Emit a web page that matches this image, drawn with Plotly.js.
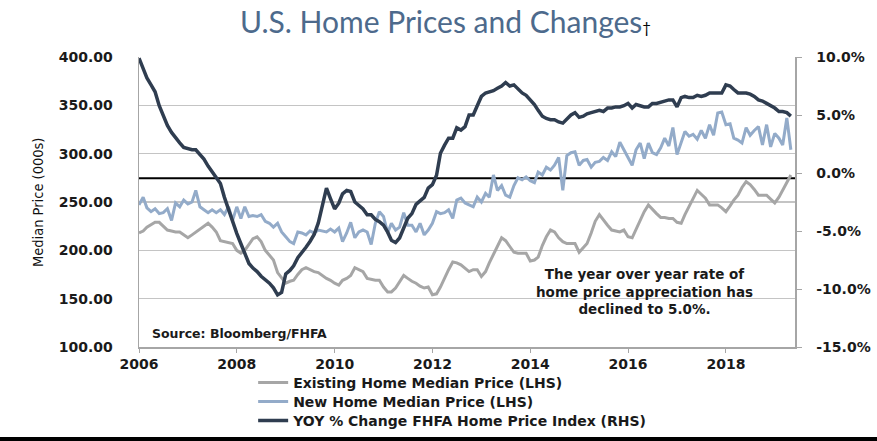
<!DOCTYPE html>
<html>
<head>
<meta charset="utf-8">
<script src="https://cdn.plot.ly/plotly-3.0.1.min.js"></script>
<style>html,body{margin:0;padding:0;background:#fff;}#chart{width:877px;height:441px;}</style>
</head>
<body>
<div id="chart"></div>
<script>
// Monthly series, Jan 2006 .. May 2019
const startYear = 2006;
const seriesNames = [
  "Existing Home Median Price (LHS)",
  "New Home Median Price (LHS)",
  "YOY % Change FHFA Home Price Index (RHS)"
];
const existingHome = [
  218,220,224,227,229,229,225,221,220,219,219,216,
  213,216,219,222,225,228,224,219,210,209,208,207,
  200,197,200,206,212,214,209,200,195,190,177,171,
  166,168,169,175,180,182,180,178,177,174,171,169,
  166,164,169,171,174,182,180,178,171,170,169,169,
  162,157,157,161,168,174,171,168,166,163,161,162,
  154,155,162,172,180,188,187,185,181,178,180,180,
  173,178,187,196,203,213,210,204,198,197,197,197,
  189,190,193,205,214,221,219,213,209,207,207,207,
  198,203,207,218,230,237,231,226,221,220,219,221,
  214,213,222,231,240,247,242,238,234,234,233,233,
  229,228,237,245,254,262,258,254,247,247,247,244,
  240,246,252,257,265,271,268,263,257,257,257,253,
  249,255,262,270,278
];
const newHome = [
  247,255,244,240,243,238,239,243,231,249,245,252,
  248,250,262,245,242,239,242,239,242,237,245,231,
  245,233,245,235,236,235,237,230,228,224,228,219,
  214,209,207,219,218,216,220,218,221,220,219,222,
  219,223,209,218,229,213,219,221,219,206,228,240,
  235,218,228,221,224,239,226,226,219,228,216,221,
  228,240,238,239,242,233,252,254,249,247,245,255,
  250,259,255,278,262,267,257,255,267,275,273,276,
  272,270,281,278,286,283,288,296,262,298,301,302,
  288,293,294,286,291,292,296,293,302,297,312,304,
  296,288,304,311,295,311,301,299,306,316,308,327,
  299,311,323,318,320,315,324,316,330,319,342,343,
  330,331,316,314,311,327,319,324,328,309,330,307,
  321,316,309,337,304
];
const yoyChange = [
  9.9,9.0,8.2,7.6,7.0,5.8,5.0,4.1,3.5,3.0,2.6,2.2,
  2.1,2.0,2.0,1.6,1.2,0.6,0.1,-0.4,-0.9,-2.1,-3.2,-4.3,
  -5.2,-6.1,-6.9,-7.8,-8.2,-8.5,-8.9,-9.2,-9.5,-9.9,-10.5,-10.3,
  -8.7,-8.4,-8.0,-7.3,-6.9,-6.4,-5.9,-5.3,-4.3,-2.9,-1.3,-2.2,
  -3.1,-2.6,-1.8,-1.5,-1.6,-2.5,-2.8,-3.1,-3.6,-3.6,-4.0,-4.2,
  -4.5,-5.1,-5.8,-6.0,-5.6,-4.7,-3.9,-3.5,-2.7,-2.4,-2.1,-1.3,
  -1.0,-0.2,1.7,2.4,3.0,3.0,3.9,3.7,4.0,5.0,5.0,5.8,
  6.6,6.9,7.0,7.1,7.3,7.5,7.8,7.5,7.6,7.2,6.9,6.7,
  6.3,5.9,5.4,4.9,4.7,4.6,4.6,4.4,4.3,4.7,5.0,5.2,
  4.8,4.9,5.1,5.2,5.3,5.4,5.3,5.6,5.6,5.7,5.7,5.8,
  6.0,5.6,5.9,5.8,5.7,5.7,6.0,6.0,6.1,6.2,6.3,6.3,
  5.7,6.5,6.6,6.5,6.5,6.7,6.6,6.7,6.9,6.9,6.9,6.9,
  7.6,7.5,7.2,6.9,6.9,6.9,6.8,6.6,6.3,6.2,6.0,5.8,
  5.6,5.3,5.3,5.2,4.9
];
const leftTicks = [100,150,200,250,300,350,400];
const leftTickText = ['100.00','150.00','200.00','250.00','300.00','350.00','400.00'];
const rightTicks = [-15,-10,-5,0,5,10];
const rightTickText = ['-15.0%','-10.0%','-5.0%','0.0%','5.0%','10.0%'];
const xTickVals = ['2006-01-01','2008-01-01','2010-01-01','2012-01-01','2014-01-01','2016-01-01','2018-01-01'];
const xTickText = ['2006','2008','2010','2012','2014','2016','2018'];
const noteLines = ['The year over year rate of', 'home price appreciation has', 'declined to 5.0%.'];

const dates = existingHome.map((_, i) => {
  const y = startYear + Math.floor(i / 12);
  const m = (i % 12) + 1;
  return y + '-' + String(m).padStart(2, '0') + '-01';
});

const boldFont = (size) => ({family: 'DejaVu Sans, sans-serif', size: size, color: '#1a1a1a', weight: 700});
const tickFont = boldFont(14);

const traces = [
  {x: dates, y: existingHome, name: seriesNames[0], type: 'scatter', mode: 'lines',
   line: {color: '#a6a6a6', width: 3}, yaxis: 'y', legend: 'legend'},
  {x: dates, y: newHome, name: seriesNames[1], type: 'scatter', mode: 'lines',
   line: {color: '#93abc9', width: 3}, yaxis: 'y', legend: 'legend2'},
  {x: dates, y: yoyChange, name: seriesNames[2], type: 'scatter', mode: 'lines',
   line: {color: '#2f3d50', width: 3.5}, yaxis: 'y2', legend: 'legend3'}
];

const legendBase = (yv) => ({
  x: 0.174, xanchor: 'left', y: yv, yanchor: 'middle', orientation: 'v',
  font: boldFont(14), bgcolor: 'rgba(0,0,0,0)', itemwidth: 30, borderwidth: 0
});

const layout = {
  width: 877, height: 441,
  margin: {l: 139, r: 82, t: 57, b: 94, autoexpand: false},
  paper_bgcolor: '#ffffff', plot_bgcolor: '#ffffff',
  showlegend: true,
  title: {
    text: 'U.S. Home Prices and Changes<span style="font-size:15px;color:#000000">†</span>',
    font: {family: 'Lato, sans-serif', size: 30, color: '#4d6a8c'},
    xref: 'container', yref: 'container', x: 0.508, xanchor: 'center', y: 0.95, yanchor: 'middle'
  },
  xaxis: {
    type: 'date', range: ['2006-01-01', '2019-06-01'],
    tickvals: xTickVals, ticktext: xTickText,
    showgrid: false, zeroline: false,
    showline: true, linecolor: '#a6a6a6', linewidth: 1.5,
    ticks: 'outside', ticklen: 4, tickcolor: '#a6a6a6',
    tickfont: tickFont
  },
  yaxis: {
    range: [100, 400], tickvals: leftTicks, ticktext: leftTickText,
    showgrid: true, gridcolor: '#c4c4c4', gridwidth: 1.2,
    zeroline: false, showline: true, linecolor: '#a6a6a6', linewidth: 1.5,
    ticks: '', ticklabelstandoff: 22,
    tickfont: tickFont
  },
  yaxis2: {
    overlaying: 'y', side: 'right', range: [-15, 10],
    tickvals: rightTicks, ticktext: rightTickText,
    showgrid: false, zeroline: false, showline: true, linecolor: '#a6a6a6', linewidth: 1.5,
    ticks: 'outside', ticklen: 5, tickcolor: '#a6a6a6', ticklabelstandoff: 12,
    tickfont: tickFont
  },
  legend: legendBase(-0.1241),
  legend2: legendBase(-0.1897),
  legend3: legendBase(-0.2552),
  shapes: [
    {type: 'line', xref: 'paper', x0: 0, x1: 1, yref: 'y', y0: 274.5, y1: 274.5,
     line: {color: '#000000', width: 2}, layer: 'below'},
    {type: 'line', xref: 'paper', x0: -0.22, x1: 1.13, yref: 'paper', y0: -0.317, y1: -0.317,
     line: {color: '#000000', width: 4}}
  ],
  annotations: [
    {text: 'Median Price (000s)', xref: 'paper', yref: 'paper', x: -0.154, y: 0.5,
     xanchor: 'center', yanchor: 'middle', textangle: -90, showarrow: false,
     font: {family: 'DejaVu Sans Condensed, sans-serif', size: 14.5, color: '#111111'}},
    {text: 'Source: Bloomberg/FHFA', xref: 'paper', yref: 'paper', x: 0.0168, y: 0.048,
     xanchor: 'left', yanchor: 'middle', showarrow: false, font: boldFont(12.5)},
    {text: noteLines.join('<br>'), xref: 'paper', yref: 'paper', x: 0.771, y: 0.19,
     xanchor: 'center', yanchor: 'middle', align: 'center', showarrow: false, font: boldFont(13.5)}
  ]
};

Plotly.newPlot('chart', traces, layout, {displayModeBar: false, staticPlot: true});
</script>
</body>
</html>
